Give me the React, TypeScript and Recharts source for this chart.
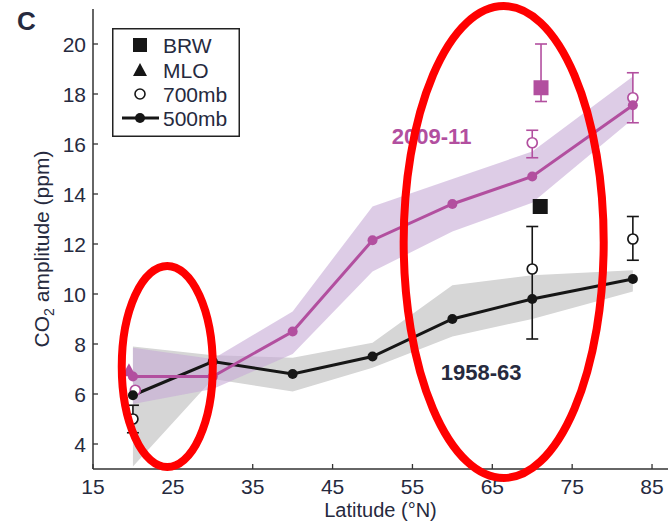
import React from 'react';
import {
  ComposedChart,
  XAxis,
  YAxis,
  Area,
  Line,
  Scatter,
  ErrorBar,
  ReferenceArea,
  ReferenceDot,
  Legend,
} from 'recharts';

// ---------- data ----------
const latitudes = [20, 30, 40, 50, 60, 70, 82.6];
const amp1958 = [5.95, 7.3, 6.8, 7.5, 9.0, 9.8, 10.6];
const band1958Low = [3.1, 6.6, 6.1, 7.05, 8.3, 9.0, 10.1];
const band1958High = [7.9, 7.55, 7.45, 8.05, 10.35, 10.75, 10.95];
const amp2009 = [6.7, 6.7, 8.5, 12.15, 13.6, 14.7, 17.55];
const band2009Low = [5.6, 6.2, 7.6, 10.9, 12.5, 13.65, 17.0];
const band2009High = [7.85, 7.4, 9.3, 13.5, 14.6, 15.7, 18.7];

const brw1958 = [{ lat: 71.0, v: 13.5 }];
const brw2009 = [{ lat: 71.1, v: 18.25, err: [0.55, 1.75] }];
const mlo2009 = [{ lat: 19.5, v: 6.95 }];
const mb700_1958 = [
  { lat: 20.0, v: 5.0, err: [0.55, 0.55] },
  { lat: 70.0, v: 11.0, err: [2.8, 1.7] },
  { lat: 82.6, v: 12.2, err: [0.85, 0.9] },
];
const mb700_2009 = [
  { lat: 70.0, v: 16.05, err: [0.6, 0.5] },
  { lat: 82.6, v: 17.85, err: [1.0, 1.0] },
];
const mb700_2009_noErr = [{ lat: 20.3, v: 6.15 }];

const xTicks = [15, 25, 35, 45, 55, 65, 75, 85];
const yTicks = [4, 6, 8, 10, 12, 14, 16, 18, 20];

const periodLabels = [
  { text: '2009-11', lat: 57.4, v: 16.32, color: '#b24f9f' },
  { text: '1958-63', lat: 63.6, v: 6.88, color: '#262a3e' },
];

const highlightRegions = [
  { lat1: 18.1, lat2: 30.5, low: 2.92, high: 11.28 },
  { lat1: 53.4, lat2: 79.45, low: 2.48, high: 21.68 },
];

const legendItems = [
  { label: 'BRW', marker: 'square' },
  { label: 'MLO', marker: 'triangle' },
  { label: '700mb', marker: 'circle' },
  { label: '500mb', marker: 'line' },
];

const rows = latitudes.map((lat, i) => ({
  lat,
  amp1958: amp1958[i],
  band1958: [band1958Low[i], band1958High[i]],
  amp2009: amp2009[i],
  band2009: [band2009Low[i], band2009High[i]],
}));

// ---------- styles ----------
const FONT = '"Liberation Sans", Arial, Helvetica, sans-serif';
const TEXT = '#262a3e';
const AXIS = '#333333';
const PURPLE = '#b24f9f';
const BLACK = '#161616';

// ---------- components ----------
const LeftTick = (p: any) => {
  const ax = p.x + 7;
  return (
    <g>
      <line x1={ax} x2={ax + 5} y1={p.y} y2={p.y} stroke={AXIS} strokeWidth={1.3} />
      <text x={p.x} y={p.y} dy={7.5} textAnchor="end" fontSize={21} fill={TEXT} fontFamily={FONT}>
        {p.payload.value}
      </text>
    </g>
  );
};

const RightTick = (p: any) => (
  <line x1={p.x - 5} x2={p.x} y1={p.y} y2={p.y} stroke={AXIS} strokeWidth={1.3} />
);

const BottomTick = (p: any) => (
  <g>
    <line x1={p.x} x2={p.x} y1={p.y} y2={p.y - 5} stroke={AXIS} strokeWidth={1.3} />
    <text x={p.x} y={p.y + 25} textAnchor="middle" fontSize={21} fill={TEXT} fontFamily={FONT}>
      {p.payload.value}
    </text>
  </g>
);

const TopTick = (p: any) => (
  <line x1={p.x} x2={p.x} y1={p.y} y2={p.y + 5} stroke={AXIS} strokeWidth={1.3} />
);

const YLabel = (props: any) => {
  const vb = props.viewBox || { x: 33, y: 9, width: 60, height: 460 };
  const x = vb.x + 16;
  const y = vb.y + vb.height / 2 + 10;
  return (
    <text
      x={x}
      y={y}
      transform={`rotate(-90, ${x}, ${y})`}
      textAnchor="middle"
      fontSize={21}
      fill={TEXT}
      fontFamily={FONT}
    >
      CO
      <tspan fontSize={14} dy={5}>2</tspan>
      <tspan dy={-5}> amplitude (ppm)</tspan>
    </text>
  );
};

const XLabel = (props: any) => {
  const vb = props.viewBox || { x: 93, y: 469, width: 575, height: 40 };
  return (
    <text
      x={vb.x + vb.width / 2}
      y={vb.y + 48}
      textAnchor="middle"
      fontSize={20}
      fill={TEXT}
      fontFamily={FONT}
    >
      Latitude (°N)
    </text>
  );
};

const openCircle = (color: string) => (p: any) => (
  <circle cx={p.cx} cy={p.cy} r={5} fill="#ffffff" stroke={color} strokeWidth={1.7} />
);
const filledSquare = (color: string) => (p: any) => (
  <rect x={p.cx - 7.5} y={p.cy - 7.5} width={15} height={15} fill={color} />
);
const filledTriangle = (color: string) => (p: any) => (
  <polygon
    points={`${p.cx},${p.cy - 7} ${p.cx - 7},${p.cy + 6} ${p.cx + 7},${p.cy + 6}`}
    fill={color}
  />
);

const EllipseShape = (p: any) => {
  const w = Math.abs(p.width);
  const h = Math.abs(p.height);
  return (
    <ellipse
      cx={p.x + w / 2}
      cy={p.y + h / 2}
      rx={w / 2 - 4}
      ry={h / 2 - 4}
      fill="none"
      stroke="#ff0000"
      strokeWidth={8}
    />
  );
};

const LegendBox = () => {
  const rowY = [17, 42, 66, 90];
  const mx = 28;
  return (
    <svg width={128} height={109} style={{ display: 'block' }}>
      <rect x={0.75} y={0.75} width={126.5} height={107.5} fill="#ffffff" stroke="#222" strokeWidth={1.5} />
      {legendItems.map((it, i) => {
        const cy = rowY[i];
        let marker: any = null;
        if (it.marker === 'square') marker = <rect x={mx - 7} y={cy - 7} width={14} height={14} fill={BLACK} />;
        else if (it.marker === 'triangle')
          marker = <polygon points={`${mx},${cy - 7} ${mx - 7},${cy + 6} ${mx + 7},${cy + 6}`} fill={BLACK} />;
        else if (it.marker === 'circle')
          marker = <circle cx={mx} cy={cy} r={5} fill="#fff" stroke={BLACK} strokeWidth={1.6} />;
        else
          marker = (
            <g>
              <line x1={10} x2={47} y1={cy} y2={cy} stroke={BLACK} strokeWidth={3} />
              <circle cx={mx} cy={cy} r={5} fill={BLACK} />
            </g>
          );
        return (
          <g key={it.label}>
            {marker}
            <text x={51} y={cy + 7.5} fontSize={21} fill={TEXT} fontFamily={FONT}>
              {it.label}
            </text>
          </g>
        );
      })}
    </svg>
  );
};

export default function App() {
  return (
    <div style={{ position: 'absolute', left: 0, top: 0, width: 669, height: 522, background: '#fff' }}>
      <ComposedChart
        width={669}
        height={522}
        data={rows}
        margin={{ top: 9, right: 1, bottom: 13, left: 33 }}
        style={{ fontFamily: FONT }}
      >
        <XAxis
          type="number"
          dataKey="lat"
          domain={[15, 87]}
          allowDataOverflow
          ticks={xTicks}
          interval={0}
          height={40}
          tickSize={0}
          tickMargin={0}
          tickLine={false}
          tick={BottomTick}
          axisLine={{ stroke: AXIS, strokeWidth: 1.5 }}
          label={<XLabel />}
        />
        <XAxis
          xAxisId="top"
          orientation="top"
          type="number"
          dataKey="lat"
          domain={[15, 87]}
          allowDataOverflow
          ticks={xTicks}
          interval={0}
          height={0}
          tickSize={0}
          tickMargin={0}
          tickLine={false}
          tick={TopTick}
          axisLine={{ stroke: AXIS, strokeWidth: 1.5 }}
        />
        <YAxis
          type="number"
          domain={[3, 21.4]}
          allowDataOverflow
          ticks={yTicks}
          interval={0}
          width={60}
          tickSize={0}
          tickMargin={7}
          tickLine={false}
          tick={LeftTick}
          axisLine={{ stroke: AXIS, strokeWidth: 1.5 }}
          label={<YLabel />}
        />
        <YAxis
          yAxisId="right"
          orientation="right"
          type="number"
          domain={[3, 21.4]}
          allowDataOverflow
          ticks={yTicks}
          interval={0}
          width={0}
          tickSize={0}
          tickMargin={0}
          tickLine={false}
          tick={RightTick}
          axisLine={{ stroke: AXIS, strokeWidth: 1.5 }}
        />

        <Area
          dataKey="band1958"
          type="linear"
          stroke="none"
          fill="#d6d6d6"
          fillOpacity={1}
          isAnimationActive={false}
          activeDot={false}
        />
        <Area
          dataKey="band2009"
          type="linear"
          stroke="none"
          fill="#c6aad5"
          fillOpacity={0.6}
          isAnimationActive={false}
          activeDot={false}
        />
        <Line
          dataKey="amp1958"
          type="linear"
          stroke={BLACK}
          strokeWidth={3}
          dot={{ r: 5, fill: BLACK, stroke: BLACK, strokeWidth: 0 }}
          activeDot={false}
          isAnimationActive={false}
        />
        <Line
          dataKey="amp2009"
          type="linear"
          stroke={PURPLE}
          strokeWidth={3}
          dot={{ r: 5, fill: PURPLE, stroke: PURPLE, strokeWidth: 0 }}
          activeDot={false}
          isAnimationActive={false}
        />

        <Scatter data={mlo2009} dataKey="v" shape={filledTriangle(PURPLE)} isAnimationActive={false} />
        <Scatter data={mb700_1958} dataKey="v" shape={openCircle(BLACK)} isAnimationActive={false}>
          <ErrorBar dataKey="err" direction="y" width={6} stroke={BLACK} strokeWidth={1.6} />
        </Scatter>
        <Scatter data={mb700_2009} dataKey="v" shape={openCircle(PURPLE)} isAnimationActive={false}>
          <ErrorBar dataKey="err" direction="y" width={6} stroke={PURPLE} strokeWidth={1.6} />
        </Scatter>
        <Scatter data={mb700_2009_noErr} dataKey="v" shape={openCircle(PURPLE)} isAnimationActive={false} />
        <Scatter data={brw1958} dataKey="v" shape={filledSquare(BLACK)} isAnimationActive={false} />
        <Scatter data={brw2009} dataKey="v" shape={filledSquare(PURPLE)} isAnimationActive={false}>
          <ErrorBar dataKey="err" direction="y" width={6} stroke={PURPLE} strokeWidth={1.6} />
        </Scatter>

        {periodLabels.map((l) => (
          <ReferenceDot
            key={l.text}
            x={l.lat}
            y={l.v}
            r={0}
            fill="none"
            stroke="none"
            label={{
              value: l.text,
              position: 'center',
              fill: l.color,
              fontSize: 22,
              fontWeight: 'bold',
              fontFamily: FONT,
            }}
          />
        ))}

        {highlightRegions.map((r, i) => (
          <ReferenceArea
            key={i}
            x1={r.lat1}
            x2={r.lat2}
            y1={r.low}
            y2={r.high}
            ifOverflow="visible"
            shape={EllipseShape}
            {...({ zIndex: 2000 } as any)}
          />
        ))}

        <Legend
          layout="vertical"
          align="center"
          verticalAlign="middle"
          wrapperStyle={{ top: 28, left: 112, width: 128, height: 109 }}
          content={() => <LegendBox />}
        />
      </ComposedChart>
      <div
        style={{
          position: 'absolute',
          left: 17,
          top: 6,
          fontFamily: FONT,
          fontWeight: 'bold',
          fontSize: 26,
          lineHeight: '30px',
          color: TEXT,
        }}
      >
        C
      </div>
    </div>
  );
}
